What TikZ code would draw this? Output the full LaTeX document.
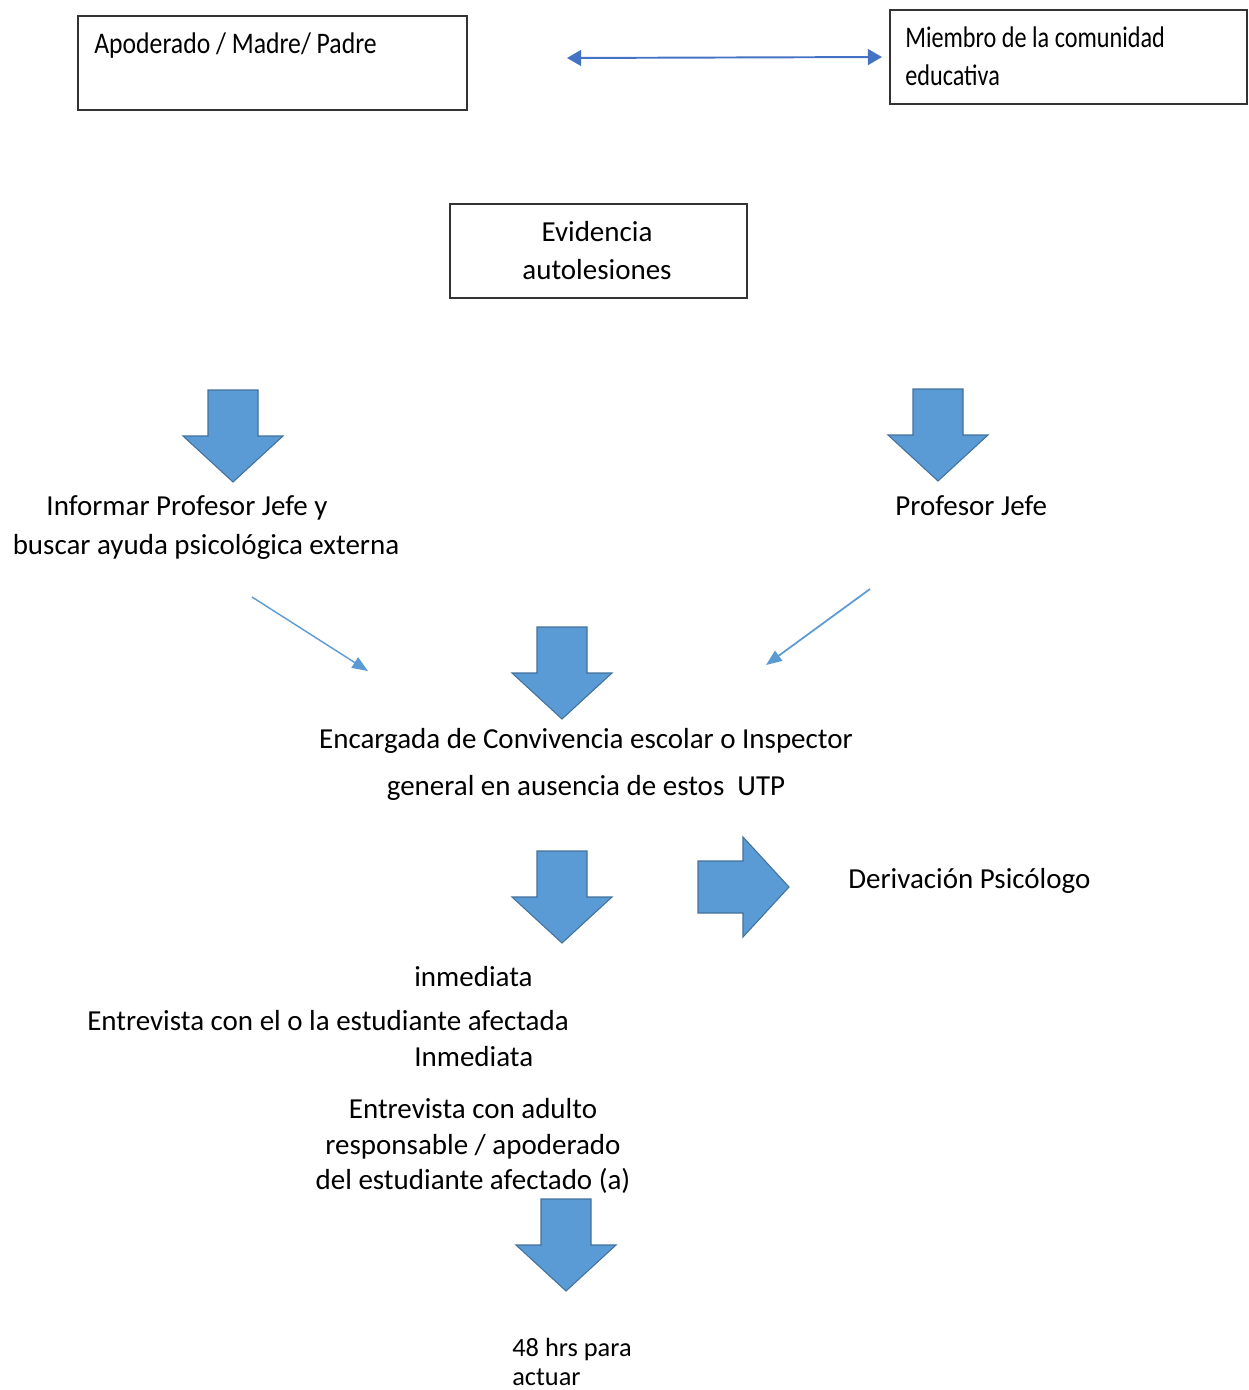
\documentclass[tikz,border=0pt]{standalone}
\usepackage{fontspec}
\setmainfont{Carlito}
\newfontfamily\boxfont{Carlito}[FakeStretch=0.86]
\newfontfamily\boxfontb{Carlito}[FakeStretch=0.81]
\usetikzlibrary{arrows.meta, positioning}
\definecolor{flechaazul}{HTML}{5B9BD5}
\definecolor{bordeazul}{HTML}{41719C}
\definecolor{lineaazul}{HTML}{4472C4}
\tikzset{caja/.style={draw=black!80, line width=1.1pt, inner sep=0pt},
	texto/.style={inner sep=0pt, font=\fontsize{16.5}{20}\selectfont},
	textocaja/.style={inner sep=0pt, font=\boxfont\fontsize{17}{20}\selectfont},
	pics/bajar/.style={code={\draw[fill=flechaazul, draw=bordeazul, line width=0.6pt] (-25,0) -- (25,0) -- (25,46) -- (50,46) -- (0,92) -- (-50,46) -- (-25,46) -- cycle;}},
	pics/derecha/.style={code={\draw[fill=flechaazul, draw=bordeazul, line width=0.6pt] (0,-26) -- (45,-26) -- (45,-50) -- (91,0) -- (45,50) -- (45,26) -- (0,26) -- cycle;}}}

\begin{document}
\begin{tikzpicture}[x=0.02cm, y=-0.02cm]
	\useasboundingbox (0,0) rectangle (1248,1390);
	% cajas de arriba
	\node[caja, minimum width=7.78cm, minimum height=1.88cm, anchor=north west] (Apoderado) at (77,15) {};
	\node[textocaja, anchor=base west] (ApoderadoTxt) at (94,53) {Apoderado / Madre/ Padre};
	\node[caja, minimum width=7.14cm, minimum height=1.88cm, anchor=north west] (Miembro) at (889,9) {};
	\node[textocaja, font=\boxfontb\fontsize{17}{20}\selectfont, anchor=base west] (MiembroTxt) at (905,47) {Miembro de la comunidad};
	\node[textocaja, font=\boxfontb\fontsize{17}{20}\selectfont, anchor=base west] (MiembroTxt2) at (905,85) {educativa};
	\coordinate (izq) at (567,58);
	\coordinate (der) at (882,57);
	\draw[lineaazul, line width=1.1pt, {Triangle[length=8pt, width=9pt]}-{Triangle[length=8pt, width=9pt]}] (izq) -- (der);
	\node[caja, minimum width=5.94cm, minimum height=1.88cm, anchor=north west] (Evidencia) at (449,203) {};
	\node[texto, anchor=base] (EvidenciaTxt) at (597,241) {Evidencia};
	\node[texto, anchor=base] (EvidenciaTxt2) at (597,279) {autolesiones};
	% dos ramas
	\pic at (233,390) {bajar};
	\pic at (938,389) {bajar};
	\node[texto, anchor=base] (Informar) at (187,515) {Informar Profesor Jefe y};
	\node[texto, anchor=base] (Informar2) at (206,554) {buscar ayuda psicológica externa};
	\node[texto, anchor=base west] (Jefe) at (895,515) {Profesor Jefe};
	\coordinate (a1) at (252,597);
	\coordinate (a2) at (368,671);
	\coordinate (b1) at (870,589);
	\coordinate (b2) at (766,665);
	\draw[flechaazul, line width=0.8pt, -{Triangle[length=9pt, width=7pt]}] (a1) -- (a2);
	\draw[flechaazul, line width=1pt, -{Triangle[length=9pt, width=7pt]}] (b1) -- (b2);
	% encargada
	\pic at (562,627) {bajar};
	\node[texto, anchor=base] (Encargada) at (586,748) {Encargada de Convivencia escolar o Inspector};
	\node[texto, anchor=base] (Encargada2) at (586,795) {general en ausencia de estos\ \ UTP};
	\pic at (562,851) {bajar};
	\pic at (698,887) {derecha};
	\node[texto, anchor=base west] (Derivacion) at (848,888) {Derivación Psicólogo};
	% entrevistas
	\node[texto, anchor=base west] (inmediata) at (414,986) {inmediata};
	\node[texto, anchor=base] (Estudiante) at (328,1030) {Entrevista con el o la estudiante afectada};
	\node[texto, anchor=base west] (Inmediata) at (414,1066) {Inmediata};
	\node[texto, anchor=base] (Adulto) at (473,1118) {Entrevista con adulto};
	\node[texto, anchor=base] (Adulto2) at (473,1154) {responsable / apoderado};
	\node[texto, anchor=base] (Adulto3) at (473,1189) {del estudiante afectado (a)};
	\pic at (566,1199) {bajar};
	\node[texto, anchor=base west, font=\fontsize{15}{18}\selectfont] (Horas) at (512,1356) {48 hrs para};
	\node[texto, anchor=base west, font=\fontsize{15}{18}\selectfont] (Horas2) at (512,1385) {actuar};
\end{tikzpicture}
\end{document}
